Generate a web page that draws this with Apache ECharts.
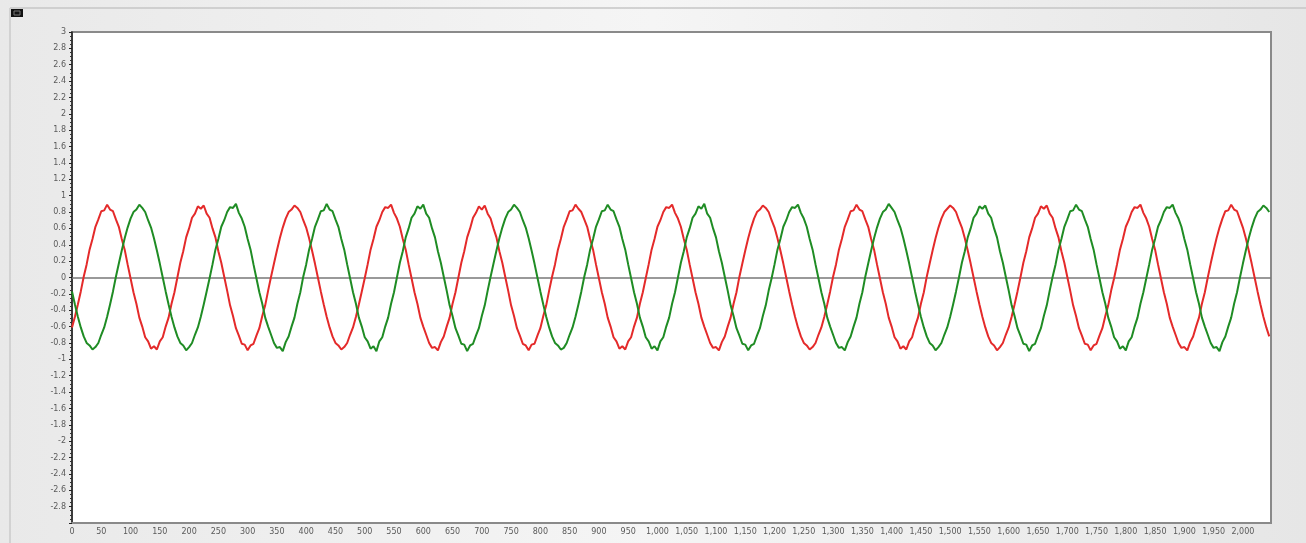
<!DOCTYPE html>
<html>
<head>
<meta charset="utf-8">
<script src="https://cdn.jsdelivr.net/npm/echarts@6/dist/echarts.min.js"></script>
<style>
  html, body { margin: 0; padding: 0; background: #ebebeb; }
  #chart { width: 1306px; height: 543px; }
</style>
</head>
<body>
<div id="chart"></div>
<script>
// Sample spacing along the x axis (sample index units)
const SAMPLE_STEP = 5;
const X_MAX = 2048;

// Axis ticks
const yTickMin = -3, yTickMax = 3, yTickStep = 0.2;
const xTickStep = 50;

// Phase A (red) samples, one cycle per line
const redValues = [
  -0.61, -0.48, -0.33, -0.17,
  0.01, 0.16, 0.34, 0.47, 0.62, 0.71, 0.81, 0.82, 0.89, 0.83, 0.81, 0.71, 0.62, 0.47, 0.34, 0.16, -0.01, -0.18, -0.32, -0.49, -0.60, -0.73, -0.78, -0.87, -0.84, -0.88, -0.78, -0.73, -0.60, -0.49, -0.32, -0.18,
  0.00, 0.18, 0.32, 0.49, 0.60, 0.73, 0.78, 0.87, 0.84, 0.88, 0.78, 0.73, 0.60, 0.49, 0.32, 0.18, 0.01, -0.16, -0.34, -0.47, -0.62, -0.71, -0.81, -0.82, -0.89, -0.83, -0.81, -0.71, -0.62, -0.47, -0.34, -0.16,
  0.01, 0.17, 0.33, 0.48, 0.61, 0.72, 0.80, 0.83, 0.88, 0.85, 0.80, 0.70, 0.61, 0.48, 0.33, 0.17, 0.00, -0.17, -0.33, -0.48, -0.61, -0.72, -0.80, -0.83, -0.88, -0.85, -0.80, -0.70, -0.61, -0.48, -0.33, -0.17,
  -0.01, 0.16, 0.34, 0.47, 0.62, 0.70, 0.80, 0.86, 0.85, 0.89, 0.79, 0.72, 0.62, 0.47, 0.34, 0.16, -0.01, -0.18, -0.32, -0.49, -0.60, -0.70, -0.80, -0.86, -0.85, -0.89, -0.79, -0.72, -0.60, -0.49, -0.32, -0.18,
  0.00, 0.18, 0.32, 0.49, 0.60, 0.73, 0.79, 0.87, 0.83, 0.88, 0.78, 0.72, 0.60, 0.49, 0.32, 0.18, 0.01, -0.16, -0.34, -0.47, -0.62, -0.71, -0.81, -0.83, -0.89, -0.82, -0.81, -0.71, -0.62, -0.47, -0.34, -0.16,
  0.01, 0.16, 0.34, 0.47, 0.62, 0.71, 0.81, 0.82, 0.89, 0.84, 0.80, 0.71, 0.62, 0.47, 0.34, 0.16, -0.01, -0.18, -0.32, -0.49, -0.60, -0.73, -0.78, -0.87, -0.84, -0.88, -0.78, -0.73, -0.60, -0.49, -0.32, -0.18,
  -0.01, 0.16, 0.34, 0.47, 0.62, 0.70, 0.80, 0.86, 0.85, 0.89, 0.79, 0.72, 0.62, 0.47, 0.34, 0.16, -0.01, -0.18, -0.32, -0.49, -0.60, -0.70, -0.80, -0.86, -0.85, -0.89, -0.79, -0.72, -0.60, -0.49, -0.32, -0.18,
  0.01, 0.17, 0.33, 0.48, 0.61, 0.72, 0.80, 0.83, 0.88, 0.85, 0.80, 0.70, 0.61, 0.48, 0.33, 0.17, 0.00, -0.17, -0.33, -0.48, -0.61, -0.72, -0.80, -0.83, -0.88, -0.85, -0.80, -0.70, -0.61, -0.48, -0.33, -0.17,
  0.01, 0.16, 0.34, 0.47, 0.62, 0.71, 0.81, 0.82, 0.89, 0.83, 0.81, 0.71, 0.62, 0.47, 0.34, 0.16, -0.01, -0.18, -0.32, -0.49, -0.60, -0.73, -0.78, -0.87, -0.84, -0.88, -0.78, -0.73, -0.60, -0.49, -0.32, -0.18,
  0.01, 0.17, 0.33, 0.48, 0.61, 0.72, 0.80, 0.84, 0.88, 0.85, 0.80, 0.70, 0.61, 0.48, 0.33, 0.17, 0.00, -0.17, -0.33, -0.48, -0.61, -0.72, -0.80, -0.83, -0.89, -0.85, -0.80, -0.70, -0.61, -0.48, -0.33, -0.17,
  0.00, 0.18, 0.32, 0.49, 0.60, 0.73, 0.78, 0.87, 0.84, 0.88, 0.78, 0.73, 0.60, 0.49, 0.32, 0.18, 0.01, -0.16, -0.34, -0.47, -0.62, -0.71, -0.81, -0.82, -0.89, -0.83, -0.81, -0.71, -0.62, -0.47, -0.34, -0.16,
  -0.01, 0.16, 0.34, 0.47, 0.62, 0.70, 0.80, 0.86, 0.85, 0.89, 0.79, 0.72, 0.62, 0.47, 0.34, 0.16, -0.01, -0.18, -0.32, -0.49, -0.60, -0.70, -0.80, -0.86, -0.85, -0.89, -0.79, -0.72, -0.60, -0.49, -0.32, -0.18,
  0.00, 0.17, 0.33, 0.48, 0.61, 0.72, 0.81, 0.82, 0.89, 0.83, 0.81, 0.71, 0.61, 0.48, 0.33, 0.17, 0.00, -0.17, -0.33, -0.48, -0.61, -0.72
];

// Phase B (green) samples, one cycle per line
const greenValues = [
  -0.17, -0.33, -0.48, -0.61, -0.72, -0.80, -0.83, -0.88, -0.85, -0.80, -0.70, -0.61, -0.48, -0.33, -0.17,
  0.01, 0.17, 0.33, 0.48, 0.61, 0.72, 0.80, 0.83, 0.89, 0.85, 0.80, 0.70, 0.61, 0.48, 0.33, 0.17, 0.00, -0.17, -0.33, -0.48, -0.61, -0.72, -0.80, -0.83, -0.89, -0.85, -0.80, -0.70, -0.61, -0.48, -0.33, -0.17,
  -0.01, 0.16, 0.34, 0.47, 0.62, 0.70, 0.80, 0.86, 0.85, 0.90, 0.79, 0.72, 0.62, 0.47, 0.34, 0.16, -0.01, -0.18, -0.32, -0.49, -0.60, -0.70, -0.80, -0.86, -0.85, -0.90, -0.79, -0.72, -0.60, -0.49, -0.32, -0.18,
  0.01, 0.16, 0.34, 0.47, 0.62, 0.71, 0.81, 0.82, 0.90, 0.83, 0.81, 0.71, 0.62, 0.47, 0.34, 0.16, -0.01, -0.18, -0.32, -0.49, -0.60, -0.73, -0.78, -0.87, -0.84, -0.90, -0.78, -0.73, -0.60, -0.49, -0.32, -0.18,
  0.00, 0.18, 0.32, 0.49, 0.60, 0.73, 0.78, 0.87, 0.84, 0.89, 0.78, 0.73, 0.60, 0.49, 0.32, 0.18, 0.01, -0.16, -0.34, -0.47, -0.62, -0.71, -0.81, -0.82, -0.90, -0.83, -0.81, -0.71, -0.62, -0.47, -0.34, -0.16,
  0.01, 0.17, 0.33, 0.48, 0.61, 0.72, 0.80, 0.83, 0.89, 0.85, 0.80, 0.70, 0.61, 0.48, 0.33, 0.17, 0.00, -0.17, -0.33, -0.48, -0.61, -0.72, -0.80, -0.83, -0.88, -0.86, -0.80, -0.70, -0.61, -0.48, -0.33, -0.17,
  0.01, 0.16, 0.34, 0.47, 0.62, 0.71, 0.81, 0.82, 0.89, 0.83, 0.81, 0.71, 0.62, 0.47, 0.34, 0.16, -0.01, -0.18, -0.32, -0.49, -0.60, -0.73, -0.78, -0.87, -0.84, -0.89, -0.78, -0.73, -0.60, -0.49, -0.32, -0.18,
  0.00, 0.18, 0.32, 0.49, 0.60, 0.73, 0.78, 0.87, 0.84, 0.90, 0.78, 0.73, 0.60, 0.49, 0.32, 0.18, 0.01, -0.16, -0.34, -0.47, -0.62, -0.71, -0.81, -0.82, -0.89, -0.83, -0.81, -0.71, -0.62, -0.47, -0.34, -0.16,
  -0.01, 0.16, 0.34, 0.47, 0.62, 0.70, 0.80, 0.86, 0.85, 0.89, 0.79, 0.72, 0.62, 0.47, 0.34, 0.16, -0.01, -0.18, -0.32, -0.49, -0.60, -0.70, -0.80, -0.86, -0.85, -0.89, -0.79, -0.72, -0.60, -0.49, -0.32, -0.18,
  0.01, 0.17, 0.33, 0.48, 0.61, 0.72, 0.80, 0.83, 0.90, 0.85, 0.80, 0.70, 0.61, 0.48, 0.33, 0.17, 0.00, -0.17, -0.33, -0.48, -0.61, -0.72, -0.80, -0.83, -0.89, -0.85, -0.80, -0.70, -0.61, -0.48, -0.33, -0.17,
  0.00, 0.18, 0.32, 0.49, 0.60, 0.73, 0.78, 0.87, 0.84, 0.88, 0.78, 0.73, 0.60, 0.49, 0.32, 0.18, 0.01, -0.16, -0.34, -0.47, -0.62, -0.71, -0.81, -0.82, -0.90, -0.83, -0.81, -0.71, -0.62, -0.47, -0.34, -0.16,
  0.01, 0.16, 0.34, 0.47, 0.62, 0.71, 0.81, 0.82, 0.89, 0.83, 0.81, 0.71, 0.62, 0.47, 0.34, 0.16, -0.01, -0.18, -0.32, -0.49, -0.60, -0.73, -0.78, -0.87, -0.84, -0.89, -0.78, -0.73, -0.60, -0.49, -0.32, -0.18,
  -0.01, 0.16, 0.34, 0.47, 0.62, 0.70, 0.80, 0.86, 0.85, 0.89, 0.79, 0.72, 0.62, 0.47, 0.34, 0.16, -0.01, -0.18, -0.32, -0.49, -0.60, -0.70, -0.80, -0.86, -0.85, -0.90, -0.79, -0.72, -0.60, -0.49, -0.32, -0.18,
  0.00, 0.17, 0.33, 0.48, 0.61, 0.72, 0.80, 0.83, 0.88, 0.85, 0.80
];

const seriesColors = { red: '#e42a2a', green: '#1f8c24' };

// Pair each sample with its index position on the x axis
function toPoints(values) {
  return values.map((v, i) => [i * SAMPLE_STEP, v]);
}

function fmtThousands(v) {
  return String(v).replace(/\B(?=(\d{3})+(?!\d))/g, ',');
}

function fmtY(v) {
  const r = Math.round(v * 10) / 10;
  if (r <= yTickMin + 1e-9) return '';
  return String(r);
}

const chart = echarts.init(document.getElementById('chart'), null, { renderer: 'canvas' });

const labelFont = { fontFamily: 'DejaVu Sans', fontSize: 8, color: '#5a5a5a' };

chart.setOption({
  animation: false,
  backgroundColor: new echarts.graphic.LinearGradient(0, 0, 1, 0, [
    { offset: 0, color: '#e9e9e9' },
    { offset: 0.5, color: '#f5f5f5' },
    { offset: 1, color: '#e6e6e6' }
  ]),
  graphic: [
    { type: 'line', shape: { x1: 10, y1: 8, x2: 1306, y2: 8 }, style: { stroke: '#c6c6c6', lineWidth: 1.5 } },
    { type: 'line', shape: { x1: 10, y1: 8, x2: 10, y2: 543 }, style: { stroke: '#cacaca', lineWidth: 1.5 } },
    { type: 'rect', shape: { x: 11, y: 9, width: 12, height: 8 }, style: { fill: '#111' } },
    { type: 'rect', shape: { x: 14, y: 11, width: 6, height: 4 }, style: { fill: 'none', stroke: '#777', lineWidth: 1 } }
  ],
  grid: {
    left: 72, right: 35, top: 32, bottom: 20,
    show: true,
    backgroundColor: '#ffffff',
    borderColor: '#8a8a8a',
    borderWidth: 2
  },
  xAxis: {
    type: 'value',
    min: 0,
    max: X_MAX,
    interval: xTickStep,
    axisLine: { show: true, onZero: false, lineStyle: { color: '#8a8a8a', width: 2 } },
    axisTick: { show: false },
    splitLine: { show: false },
    axisLabel: Object.assign({
      margin: 5,
      showMaxLabel: false,
      formatter: v => (v > 2000 ? '' : fmtThousands(v))
    }, labelFont)
  },
  yAxis: {
    type: 'value',
    min: yTickMin,
    max: yTickMax,
    interval: yTickStep,
    axisLine: { show: true, lineStyle: { color: '#222', width: 1.5 } },
    axisTick: { show: true, length: 3, lineStyle: { color: '#222', width: 1 } },
    minorTick: { show: true, splitNumber: 4, length: 2, lineStyle: { color: '#333', width: 1 } },
    splitLine: { show: false },
    axisLabel: Object.assign({ margin: 6, formatter: fmtY }, labelFont)
  },
  series: [
    {
      name: 'A',
      type: 'line',
      data: toPoints(redValues),
      showSymbol: false,
      lineStyle: { color: seriesColors.red, width: 2 },
      itemStyle: { color: seriesColors.red },
      z: 3,
      markLine: {
        silent: true,
        symbol: 'none',
        label: { show: false },
        lineStyle: { color: '#777', width: 1.5, type: 'solid' },
        data: [{ yAxis: 0 }],
        z: 1
      }
    },
    {
      name: 'B',
      type: 'line',
      data: toPoints(greenValues),
      showSymbol: false,
      lineStyle: { color: seriesColors.green, width: 2 },
      itemStyle: { color: seriesColors.green },
      z: 4
    }
  ]
});
</script>
</body>
</html>
